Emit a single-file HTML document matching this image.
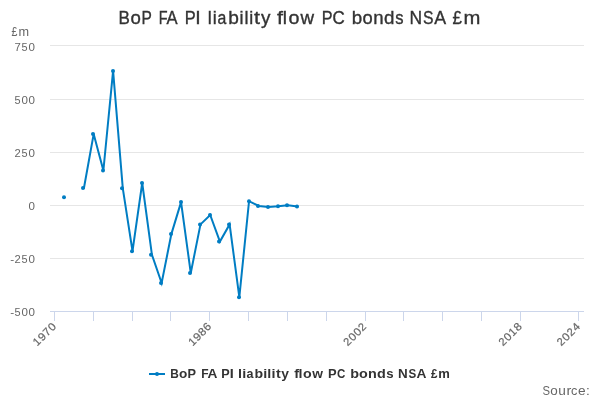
<!DOCTYPE html>
<html><head><meta charset="utf-8"><title>BoP FA PI liability flow PC bonds NSA £m</title><style>
html,body{margin:0;padding:0;background:#fff;width:600px;height:400px;overflow:hidden}
svg{display:block;will-change:transform}
text{font-family:"Liberation Sans",sans-serif;font-kerning:none;font-variant-ligatures:none}
</style></head><body>
<svg width="600" height="400" viewBox="0 0 600 400">
<rect width="600" height="400" fill="#fff"/>
<g font-size="18" fill="#333333" stroke="#333333" stroke-width="0.35"><text y="24"><tspan x="118.60" textLength="11.36" lengthAdjust="spacingAndGlyphs">B</tspan><tspan x="130.49" textLength="10.36" lengthAdjust="spacingAndGlyphs">o</tspan><tspan x="141.48" textLength="10.34" lengthAdjust="spacingAndGlyphs">P</tspan> <tspan x="158.76" textLength="8.80" lengthAdjust="spacingAndGlyphs">F</tspan><tspan x="166.44" textLength="11.09" lengthAdjust="spacingAndGlyphs">A</tspan> <tspan x="184.65" textLength="10.94" lengthAdjust="spacingAndGlyphs">P</tspan><tspan x="195.36" textLength="5.45" lengthAdjust="spacingAndGlyphs">I</tspan> <tspan x="207.79" textLength="3.99" lengthAdjust="spacingAndGlyphs">l</tspan><tspan x="212.68" textLength="3.99" lengthAdjust="spacingAndGlyphs">i</tspan><tspan x="217.50" textLength="8.80" lengthAdjust="spacingAndGlyphs">a</tspan><tspan x="228.26" textLength="10.64" lengthAdjust="spacingAndGlyphs">b</tspan><tspan x="239.53" textLength="3.99" lengthAdjust="spacingAndGlyphs">i</tspan><tspan x="244.40" textLength="3.99" lengthAdjust="spacingAndGlyphs">l</tspan><tspan x="249.30" textLength="3.99" lengthAdjust="spacingAndGlyphs">i</tspan><tspan x="254.12" textLength="6.00" lengthAdjust="spacingAndGlyphs">t</tspan><tspan x="261.09" textLength="9.44" lengthAdjust="spacingAndGlyphs">y</tspan> <tspan x="277.06" textLength="6.00" lengthAdjust="spacingAndGlyphs">f</tspan><tspan x="282.89" textLength="4.21" lengthAdjust="spacingAndGlyphs">l</tspan><tspan x="288.46" textLength="10.96" lengthAdjust="spacingAndGlyphs">o</tspan><tspan x="300.42" textLength="13.54" lengthAdjust="spacingAndGlyphs">w</tspan> <tspan x="321.67" textLength="10.78" lengthAdjust="spacingAndGlyphs">P</tspan><tspan x="332.40" textLength="12.25" lengthAdjust="spacingAndGlyphs">C</tspan> <tspan x="351.79" textLength="10.44" lengthAdjust="spacingAndGlyphs">b</tspan><tspan x="362.58" textLength="10.20" lengthAdjust="spacingAndGlyphs">o</tspan><tspan x="373.29" textLength="10.35" lengthAdjust="spacingAndGlyphs">n</tspan><tspan x="384.06" textLength="10.43" lengthAdjust="spacingAndGlyphs">d</tspan><tspan x="395.33" textLength="8.27" lengthAdjust="spacingAndGlyphs">s</tspan> <tspan x="409.57" textLength="12.61" lengthAdjust="spacingAndGlyphs">N</tspan><tspan x="422.94" textLength="10.51" lengthAdjust="spacingAndGlyphs">S</tspan><tspan x="434.15" textLength="11.88" lengthAdjust="spacingAndGlyphs">A</tspan> <tspan x="452.52" textLength="9.39" lengthAdjust="spacingAndGlyphs">£</tspan><tspan x="463.46" textLength="16.87" lengthAdjust="spacingAndGlyphs">m</tspan></text></g>
<g stroke="#e6e6e6" stroke-width="1"><line x1="50" y1="45.5" x2="584" y2="45.5"/><line x1="50" y1="99.5" x2="584" y2="99.5"/><line x1="50" y1="152.5" x2="584" y2="152.5"/><line x1="50" y1="205.5" x2="584" y2="205.5"/><line x1="50" y1="258.5" x2="584" y2="258.5"/></g>
<g stroke="#ccd6eb" stroke-width="1"><line x1="50" y1="311.5" x2="584" y2="311.5"/><line x1="54.5" y1="311" x2="54.5" y2="321"/><line x1="93.5" y1="311" x2="93.5" y2="321"/><line x1="132.5" y1="311" x2="132.5" y2="321"/><line x1="170.5" y1="311" x2="170.5" y2="321"/><line x1="209.5" y1="311" x2="209.5" y2="321"/><line x1="248.5" y1="311" x2="248.5" y2="321"/><line x1="287.5" y1="311" x2="287.5" y2="321"/><line x1="326.5" y1="311" x2="326.5" y2="321"/><line x1="365.5" y1="311" x2="365.5" y2="321"/><line x1="403.5" y1="311" x2="403.5" y2="321"/><line x1="442.5" y1="311" x2="442.5" y2="321"/><line x1="481.5" y1="311" x2="481.5" y2="321"/><line x1="520.5" y1="311" x2="520.5" y2="321"/><line x1="578.5" y1="311" x2="578.5" y2="321"/></g>
<g font-size="12" fill="#666666"><text y="36"><tspan x="11.60" textLength="5.89" lengthAdjust="spacingAndGlyphs">£</tspan><tspan x="18.45" textLength="10.58" lengthAdjust="spacingAndGlyphs">m</tspan></text></g>
<g font-size="11" fill="#666666"><text y="51"><tspan x="14.52" textLength="6.31" lengthAdjust="spacingAndGlyphs">7</tspan><tspan x="21.59" textLength="6.09" lengthAdjust="spacingAndGlyphs">5</tspan><tspan x="28.46" textLength="6.45" lengthAdjust="spacingAndGlyphs">0</tspan></text><text y="104"><tspan x="14.61" textLength="6.09" lengthAdjust="spacingAndGlyphs">5</tspan><tspan x="21.46" textLength="6.45" lengthAdjust="spacingAndGlyphs">0</tspan><tspan x="28.46" textLength="6.45" lengthAdjust="spacingAndGlyphs">0</tspan></text><text y="157"><tspan x="14.44" textLength="6.22" lengthAdjust="spacingAndGlyphs">2</tspan><tspan x="21.59" textLength="6.09" lengthAdjust="spacingAndGlyphs">5</tspan><tspan x="28.46" textLength="6.45" lengthAdjust="spacingAndGlyphs">0</tspan></text><text y="210"><tspan x="28.47" textLength="6.45" lengthAdjust="spacingAndGlyphs">0</tspan></text><text y="263"><tspan x="10.24" textLength="3.95" lengthAdjust="spacingAndGlyphs">-</tspan><tspan x="14.44" textLength="6.22" lengthAdjust="spacingAndGlyphs">2</tspan><tspan x="21.59" textLength="6.09" lengthAdjust="spacingAndGlyphs">5</tspan><tspan x="28.46" textLength="6.45" lengthAdjust="spacingAndGlyphs">0</tspan></text><text y="316"><tspan x="10.24" textLength="3.95" lengthAdjust="spacingAndGlyphs">-</tspan><tspan x="14.61" textLength="6.09" lengthAdjust="spacingAndGlyphs">5</tspan><tspan x="21.46" textLength="6.45" lengthAdjust="spacingAndGlyphs">0</tspan><tspan x="28.46" textLength="6.45" lengthAdjust="spacingAndGlyphs">0</tspan></text></g>
<g font-size="11" fill="#666666" stroke="#666666" stroke-width="0.2"><g transform="translate(56.9,327) rotate(-45)"><text y="0"><tspan x="-27.64" textLength="6.16" lengthAdjust="spacingAndGlyphs">1</tspan><tspan x="-20.88" textLength="6.66" lengthAdjust="spacingAndGlyphs">9</tspan><tspan x="-13.69" textLength="6.31" lengthAdjust="spacingAndGlyphs">7</tspan><tspan x="-6.74" textLength="6.45" lengthAdjust="spacingAndGlyphs">0</tspan></text></g><g transform="translate(212.20000000000002,327) rotate(-45)"><text y="0"><tspan x="-27.64" textLength="6.16" lengthAdjust="spacingAndGlyphs">1</tspan><tspan x="-20.88" textLength="6.66" lengthAdjust="spacingAndGlyphs">9</tspan><tspan x="-13.78" textLength="6.52" lengthAdjust="spacingAndGlyphs">8</tspan><tspan x="-6.86" textLength="6.67" lengthAdjust="spacingAndGlyphs">6</tspan></text></g><g transform="translate(367.4,327) rotate(-45)"><text y="0"><tspan x="-27.76" textLength="6.22" lengthAdjust="spacingAndGlyphs">2</tspan><tspan x="-20.74" textLength="6.45" lengthAdjust="spacingAndGlyphs">0</tspan><tspan x="-13.74" textLength="6.45" lengthAdjust="spacingAndGlyphs">0</tspan><tspan x="-6.77" textLength="6.22" lengthAdjust="spacingAndGlyphs">2</tspan></text></g><g transform="translate(522.6999999999999,327) rotate(-45)"><text y="0"><tspan x="-27.76" textLength="6.22" lengthAdjust="spacingAndGlyphs">2</tspan><tspan x="-20.74" textLength="6.45" lengthAdjust="spacingAndGlyphs">0</tspan><tspan x="-13.65" textLength="6.16" lengthAdjust="spacingAndGlyphs">1</tspan><tspan x="-6.78" textLength="6.52" lengthAdjust="spacingAndGlyphs">8</tspan></text></g><g transform="translate(580.9,327) rotate(-45)"><text y="0"><tspan x="-27.76" textLength="6.22" lengthAdjust="spacingAndGlyphs">2</tspan><tspan x="-20.74" textLength="6.45" lengthAdjust="spacingAndGlyphs">0</tspan><tspan x="-13.77" textLength="6.22" lengthAdjust="spacingAndGlyphs">2</tspan><tspan x="-6.74" textLength="6.45" lengthAdjust="spacingAndGlyphs">4</tspan></text></g></g>
<path d="M83.95 188 L93.66 134.1 L103.38 170.5 L113.09 70.9 L122.8 188.3 L132.51 251.2 L142.22 183 L151.93 254.8 L161.64 283 L171.35 234.1 L181.06 202.1 L190.77 273 L200.48 224.4 L210.2 215 L219.91 241.6 L229.62 224.4 L239.33 297.2 L249.04 201.2 L258.75 206 L268.46 207 L278.17 206.25 L287.88 205.2 L297.6 206.5" fill="none" stroke="#007dc3" stroke-width="2" stroke-linecap="round"/>
<g fill="#007dc3"><circle cx="64" cy="197.2" r="2"/><circle cx="83" cy="188" r="2"/><circle cx="93" cy="134.1" r="2"/><circle cx="103" cy="170.5" r="2"/><circle cx="113" cy="70.9" r="2"/><circle cx="122" cy="188.3" r="2"/><circle cx="132" cy="251.2" r="2"/><circle cx="142" cy="183" r="2"/><circle cx="151" cy="254.8" r="2"/><circle cx="161" cy="283" r="2"/><circle cx="171" cy="234.1" r="2"/><circle cx="181" cy="202.1" r="2"/><circle cx="190" cy="273" r="2"/><circle cx="200" cy="224.4" r="2"/><circle cx="210" cy="215" r="2"/><circle cx="219" cy="241.6" r="2"/><circle cx="229" cy="224.4" r="2"/><circle cx="239" cy="297.2" r="2"/><circle cx="249" cy="201.2" r="2"/><circle cx="258" cy="206" r="2"/><circle cx="268" cy="207" r="2"/><circle cx="278" cy="206.25" r="2"/><circle cx="287" cy="205.2" r="2"/><circle cx="297" cy="206.5" r="2"/></g>
<line x1="149" y1="374" x2="165" y2="374" stroke="#007dc3" stroke-width="2"/>
<circle cx="157" cy="374" r="2" fill="#007dc3"/>
<g font-size="12" font-weight="bold" fill="#333333"><text y="378"><tspan x="170.21" textLength="8.56" lengthAdjust="spacingAndGlyphs">B</tspan><tspan x="179.06" textLength="8.31" lengthAdjust="spacingAndGlyphs">o</tspan><tspan x="187.61" textLength="8.52" lengthAdjust="spacingAndGlyphs">P</tspan> <tspan x="201.19" textLength="7.36" lengthAdjust="spacingAndGlyphs">F</tspan><tspan x="207.45" textLength="9.91" lengthAdjust="spacingAndGlyphs">A</tspan> <tspan x="221.15" textLength="8.45" lengthAdjust="spacingAndGlyphs">P</tspan><tspan x="229.88" textLength="4.00" lengthAdjust="spacingAndGlyphs">I</tspan> <tspan x="238.06" textLength="4.00" lengthAdjust="spacingAndGlyphs">l</tspan><tspan x="242.21" textLength="4.00" lengthAdjust="spacingAndGlyphs">i</tspan><tspan x="246.44" textLength="6.98" lengthAdjust="spacingAndGlyphs">a</tspan><tspan x="254.54" textLength="8.61" lengthAdjust="spacingAndGlyphs">b</tspan><tspan x="263.20" textLength="4.00" lengthAdjust="spacingAndGlyphs">i</tspan><tspan x="267.34" textLength="4.00" lengthAdjust="spacingAndGlyphs">l</tspan><tspan x="271.48" textLength="4.00" lengthAdjust="spacingAndGlyphs">i</tspan><tspan x="275.98" textLength="4.80" lengthAdjust="spacingAndGlyphs">t</tspan><tspan x="281.37" textLength="7.70" lengthAdjust="spacingAndGlyphs">y</tspan> <tspan x="294.15" textLength="4.80" lengthAdjust="spacingAndGlyphs">f</tspan><tspan x="298.61" textLength="4.00" lengthAdjust="spacingAndGlyphs">l</tspan><tspan x="303.11" textLength="8.70" lengthAdjust="spacingAndGlyphs">o</tspan><tspan x="312.27" textLength="10.71" lengthAdjust="spacingAndGlyphs">w</tspan> <tspan x="328.13" textLength="8.63" lengthAdjust="spacingAndGlyphs">P</tspan><tspan x="336.96" textLength="8.36" lengthAdjust="spacingAndGlyphs">C</tspan> <tspan x="350.16" textLength="8.80" lengthAdjust="spacingAndGlyphs">b</tspan><tspan x="359.04" textLength="8.79" lengthAdjust="spacingAndGlyphs">o</tspan><tspan x="367.96" textLength="8.80" lengthAdjust="spacingAndGlyphs">n</tspan><tspan x="376.98" textLength="8.80" lengthAdjust="spacingAndGlyphs">d</tspan><tspan x="386.21" textLength="7.33" lengthAdjust="spacingAndGlyphs">s</tspan> <tspan x="398.10" textLength="9.70" lengthAdjust="spacingAndGlyphs">N</tspan><tspan x="408.54" textLength="7.74" lengthAdjust="spacingAndGlyphs">S</tspan><tspan x="416.42" textLength="9.94" lengthAdjust="spacingAndGlyphs">A</tspan> <tspan x="430.88" textLength="6.46" lengthAdjust="spacingAndGlyphs">£</tspan><tspan x="438.23" textLength="11.58" lengthAdjust="spacingAndGlyphs">m</tspan></text></g>
<g font-size="12" fill="#666666"><text y="394.6"><tspan x="542.49" textLength="7.54" lengthAdjust="spacingAndGlyphs">S</tspan><tspan x="550.34" textLength="7.50" lengthAdjust="spacingAndGlyphs">o</tspan><tspan x="558.16" textLength="7.60" lengthAdjust="spacingAndGlyphs">u</tspan><tspan x="566.43" textLength="4.80" lengthAdjust="spacingAndGlyphs">r</tspan><tspan x="571.10" textLength="6.36" lengthAdjust="spacingAndGlyphs">c</tspan><tspan x="578.03" textLength="7.62" lengthAdjust="spacingAndGlyphs">e</tspan><tspan x="585.94" textLength="3.81" lengthAdjust="spacingAndGlyphs">:</tspan></text></g>
</svg>
</body></html>
